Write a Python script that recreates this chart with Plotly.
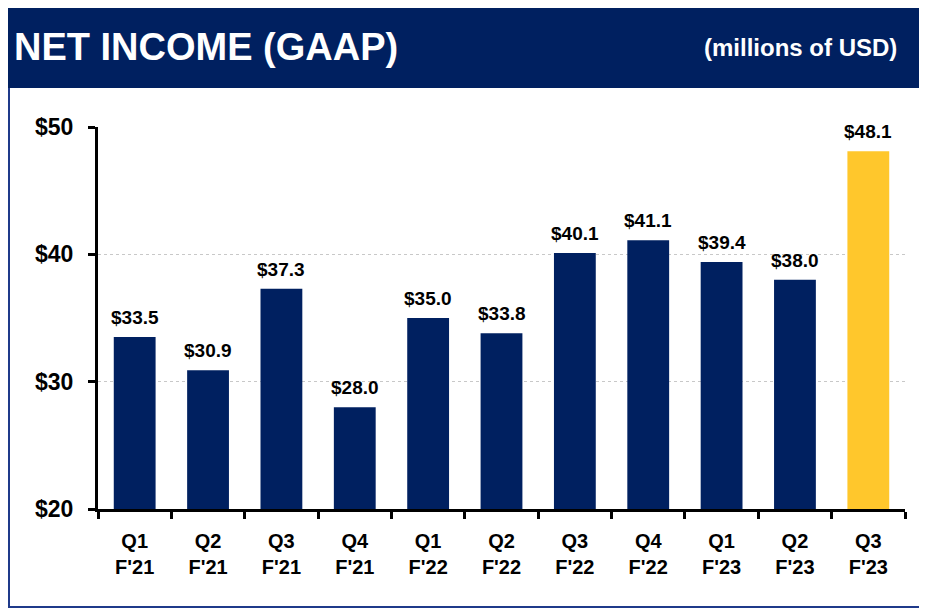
import plotly.graph_objects as go

# data
quarters = ["Q1<br>F'21", "Q2<br>F'21", "Q3<br>F'21", "Q4<br>F'21",
            "Q1<br>F'22", "Q2<br>F'22", "Q3<br>F'22", "Q4<br>F'22",
            "Q1<br>F'23", "Q2<br>F'23", "Q3<br>F'23"]
net_income = [33.5, 30.9, 37.3, 28.0, 35.0, 33.8, 40.1, 41.1, 39.4, 38.0, 48.1]
y_ticks = [20, 30, 40, 50]

NAVY = "#002060"
GOLD = "#FFC72C"
FONT = "Liberation Sans Narrow, Arial Narrow, Liberation Sans, Arial"

bar_colors = [NAVY] * (len(net_income) - 1) + [GOLD]

# page has 8px body margin, so work in screen pixels and shift back
OFF = 8
W, H = 927, 612
L, T = 98 - OFF, 127 - OFF
R = W - (905 - OFF)
B = H - (509 - OFF)
pw, ph = W - L - R, H - T - B

# screen pixel -> paper coords
def px(x):
    return (x - OFF - L) / pw

def py(y):
    return (H - B - (y - OFF)) / ph

fig = go.Figure(go.Bar(
    x=quarters, y=net_income,
    marker=dict(color=bar_colors, line=dict(width=0)),
))

# value labels above the bars
for q, v in zip(quarters, net_income):
    fig.add_annotation(x=q, y=v, text="<b>${:.1f}</b>".format(v),
                       xanchor="center", yanchor="bottom", yshift=7,
                       showarrow=False,
                       font=dict(family=FONT, size=19, color="black"))

# frame + header band
fig.add_shape(type="rect", xref="paper", yref="paper",
              x0=px(9), x1=px(922), y0=py(607), y1=py(9),
              line=dict(color="#1F3A8A", width=2), fillcolor="white", layer="below")
fig.add_shape(type="rect", xref="paper", yref="paper",
              x0=px(4), x1=px(923), y0=py(88), y1=py(3),
              line=dict(width=0), fillcolor=NAVY, layer="below")

fig.add_annotation(text="<b>NET INCOME (GAAP)</b>", xref="paper", yref="paper",
                   x=px(12), y=py(47), xanchor="left", yanchor="middle",
                   showarrow=False, font=dict(family=FONT, size=38, color="white"))
fig.add_annotation(text="<b>(millions of USD)</b>", xref="paper", yref="paper",
                   x=px(899), y=py(47), xanchor="right", yanchor="middle",
                   showarrow=False, font=dict(family=FONT, size=24, color="white"))

fig.update_layout(
    width=W, height=H,
    margin=dict(l=L, r=R, t=T, b=B),
    paper_bgcolor="white", plot_bgcolor="white",
    bargap=0.43, showlegend=False,
    font=dict(family=FONT),
)
fig.update_xaxes(
    tickvals=quarters, ticktext=["<b>%s</b>" % q for q in quarters],
    showline=True, linecolor="black", linewidth=3,
    ticks="outside", tickson="boundaries", ticklen=7, tickwidth=3, tickcolor="black",
    ticklabelstandoff=12,
    tickfont=dict(family=FONT, size=20, color="black"),
)
fig.update_yaxes(
    range=[20, 50], tickvals=y_ticks, ticktext=["<b>$%d</b>" % v for v in y_ticks],
    showline=True, linecolor="black", linewidth=3,
    ticks="outside", ticklen=7, tickwidth=3, tickcolor="black",
    ticklabelstandoff=10,
    showgrid=True, gridcolor="#C8C8C8", gridwidth=1, griddash="dot",
    zeroline=False,
    tickfont=dict(family=FONT, size=23, color="black"),
)

fig.write_html("out.html")
